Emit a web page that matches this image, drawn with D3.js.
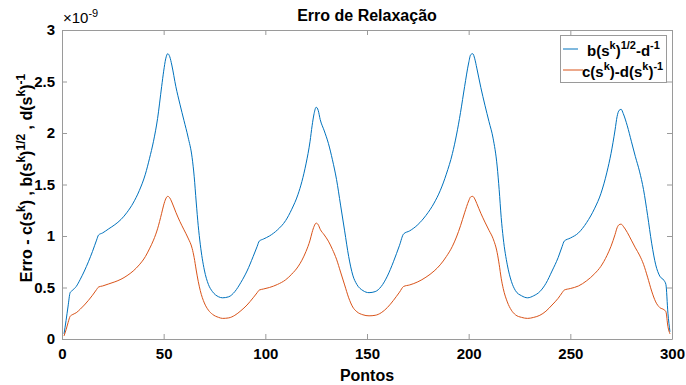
<!DOCTYPE html>
<html><head><meta charset="utf-8">
<script src="https://cdn.jsdelivr.net/npm/d3@7"></script>
<style>
body{margin:0;background:#fff}
text{font-family:"Liberation Sans",Arial,Helvetica,sans-serif;}
</style>
</head><body>
<svg id="c" width="686" height="385"></svg>
<script>
// ---- data (values in units of 1e-9) ----
const pontos = [1,2,3,4,5,7,9,11,13,15,17,18,20,23,26,29,32,35,38,41,43,45,47,49,50,51,52,53,54,56,58,60,62,64,65,66,67,68,70,72,74,77,79,82,85,88,91,94,96,97,99,102,106,110,113,116,118,120,122,123,124,125,126,127,129,131,133,135,137,139,141,143,145,148,151,154,157,160,163,166,168,171,175,179,183,186,189,192,194,196,198,200,201,202,203,204,206,208,210,212,214,215,216,217,219,221,223,226,229,232,235,238,241,244,246,247,250,254,258,262,265,268,270,272,273,274,275,276,278,280,282,284,286,288,290,292,294,296,297,298,299];
const serieB = [0.05,0.18,0.32,0.45,0.47,0.51,0.58,0.66,0.75,0.85,0.96,1.01,1.03,1.07,1.11,1.16,1.23,1.32,1.44,1.60,1.75,1.92,2.14,2.45,2.60,2.72,2.77,2.74,2.66,2.45,2.28,2.12,1.96,1.76,1.58,1.33,1.10,0.92,0.67,0.53,0.46,0.41,0.40,0.41,0.46,0.55,0.66,0.80,0.90,0.95,0.97,1.00,1.06,1.15,1.26,1.40,1.53,1.70,1.92,2.07,2.19,2.25,2.22,2.13,2.02,1.90,1.74,1.55,1.30,1.05,0.80,0.62,0.53,0.47,0.45,0.46,0.51,0.61,0.75,0.91,1.02,1.05,1.11,1.20,1.32,1.44,1.60,1.80,1.98,2.20,2.45,2.68,2.76,2.77,2.72,2.63,2.44,2.27,2.11,1.95,1.68,1.45,1.18,0.98,0.72,0.56,0.47,0.42,0.40,0.42,0.46,0.54,0.66,0.79,0.90,0.95,0.98,1.03,1.13,1.27,1.41,1.62,1.80,2.03,2.16,2.22,2.23,2.19,2.07,1.92,1.77,1.63,1.45,1.20,0.93,0.72,0.61,0.57,0.53,0.25,0.07];
const serieC = [0.03,0.09,0.16,0.22,0.235,0.255,0.29,0.33,0.375,0.425,0.48,0.505,0.515,0.535,0.555,0.58,0.615,0.66,0.72,0.80,0.875,0.96,1.07,1.22,1.30,1.36,1.385,1.37,1.33,1.23,1.14,1.06,0.98,0.88,0.79,0.67,0.56,0.47,0.35,0.28,0.24,0.21,0.20,0.205,0.23,0.275,0.33,0.40,0.45,0.475,0.485,0.50,0.53,0.575,0.63,0.70,0.765,0.85,0.96,1.035,1.095,1.125,1.11,1.065,1.01,0.95,0.87,0.775,0.65,0.525,0.40,0.31,0.265,0.235,0.225,0.23,0.255,0.305,0.375,0.455,0.51,0.525,0.555,0.60,0.66,0.72,0.80,0.90,0.99,1.10,1.225,1.34,1.38,1.385,1.36,1.315,1.22,1.135,1.055,0.975,0.84,0.725,0.59,0.49,0.36,0.28,0.235,0.21,0.20,0.21,0.23,0.27,0.33,0.395,0.45,0.475,0.49,0.515,0.565,0.635,0.705,0.81,0.90,1.015,1.08,1.11,1.115,1.095,1.035,0.96,0.885,0.815,0.725,0.60,0.465,0.36,0.305,0.285,0.265,0.12,0.05];
const xTicks = [0,50,100,150,200,250,300];
const yTicks = [0,0.5,1,1.5,2,2.5,3];
const yTickLabels = ["0","0.5","1","1.5","2","2.5","3"];
const colors = ["#0072BD","#D95319"];

// ---- layout ----
const svg = d3.select("#c");
const L = 62, T = 30, R = 672, B = 339;
const x = d3.scaleLinear().domain([0,300]).range([L,R]);
const y = d3.scaleLinear().domain([0,3]).range([B,T]);
const axisCol = "#9a9a9a";
const font = 15;

function styleAxis(g){
  g.selectAll("path.domain").attr("stroke",axisCol).attr("stroke-width",1);
  g.selectAll(".tick line").attr("stroke",axisCol);
  g.selectAll(".tick text").attr("fill","#000").attr("font-size",font).attr("font-weight","bold")
    .attr("font-family","'Liberation Sans',Arial,sans-serif");
}
svg.append("g").attr("transform",`translate(0,${B})`)
  .call(d3.axisBottom(x).tickValues(xTicks).tickSize(-5).tickPadding(9).tickSizeOuter(0))
  .call(styleAxis);
svg.append("g").attr("transform",`translate(0,${T})`)
  .call(d3.axisTop(x).tickValues(xTicks).tickSize(-5).tickFormat("").tickSizeOuter(0))
  .call(styleAxis);
svg.append("g").attr("transform",`translate(${L},0)`)
  .call(d3.axisLeft(y).tickValues(yTicks).tickFormat((d,i)=>yTickLabels[i]).tickSize(-5).tickPadding(7).tickSizeOuter(0))
  .call(styleAxis);
svg.append("g").attr("transform",`translate(${R},0)`)
  .call(d3.axisRight(y).tickValues(yTicks).tickSize(-5).tickFormat("").tickSizeOuter(0))
  .call(styleAxis);

// lines
const seriesList = [serieB, serieC];
const line = d3.line().x((d,i)=>x(pontos[i])).y(d=>y(d)).curve(d3.curveMonotoneX);
seriesList.forEach((s,k)=>{
  svg.append("path").datum(s).attr("d",line).attr("fill","none")
    .attr("stroke",colors[k]).attr("stroke-width",1);
});

// exponent label
const ex = svg.append("text").attr("x",L+1).attr("y",T-7).attr("font-size",font).attr("fill","#000");
ex.append("tspan").text("\u00d710");
ex.append("tspan").attr("dy",-6).attr("font-size",11).text("-9");

// title
svg.append("text").attr("x",(L+R)/2).attr("y",21).attr("text-anchor","middle")
  .attr("font-size",16).attr("font-weight","bold").text("Erro de Relaxação");

// x label
svg.append("text").attr("x",(L+R)/2).attr("y",381).attr("text-anchor","middle")
  .attr("font-size",16).attr("font-weight","bold").text("Pontos");

function richText(sel, parts, sup){
  parts.forEach(p=>{
    const t = sel.append("tspan").text(p[0]);
    if(p[1]==="sup") t.attr("font-size",sup).attr("dy",-7);
    if(p[1]==="down") t.attr("dy",7);
  });
}
const yl = svg.append("text").attr("transform",`translate(32,178) rotate(-90)`)
  .attr("text-anchor","middle").attr("font-size",16).attr("font-weight","bold");
const ylParts = [["Erro - c(s"],["k","sup"],[")","down"],[" , b(s"],["k","sup"],[")","down"],["1/2","sup"],[" , d(s","down"],["k","sup"],[")","down"],["-1","sup"]];
richText(yl, ylParts, 12);

// legend
const lg = svg.append("g");
lg.append("rect").attr("x",560.5).attr("y",35.5).attr("width",106).attr("height",47)
  .attr("fill","#fff").attr("stroke",axisCol).attr("stroke-width",1);
lg.append("line").attr("x1",563).attr("x2",578).attr("y1",49).attr("y2",49).attr("stroke",colors[0]);
lg.append("line").attr("x1",563).attr("x2",583).attr("y1",70).attr("y2",70).attr("stroke",colors[1]);
const t1 = lg.append("text").attr("x",587).attr("y",56).attr("font-size",15).attr("font-weight","bold");
richText(t1, [["b(s"],["k","sup"],[")","down"],["1/2","sup"],["-d","down"],["-1","sup"]], 11);
const t2 = lg.append("text").attr("x",582).attr("y",77).attr("font-size",15).attr("font-weight","bold");
richText(t2, [["c(s"],["k","sup"],[")-d(s","down"],["k","sup"],[")","down"],["-1","sup"]], 11);
</script>
</body></html>
